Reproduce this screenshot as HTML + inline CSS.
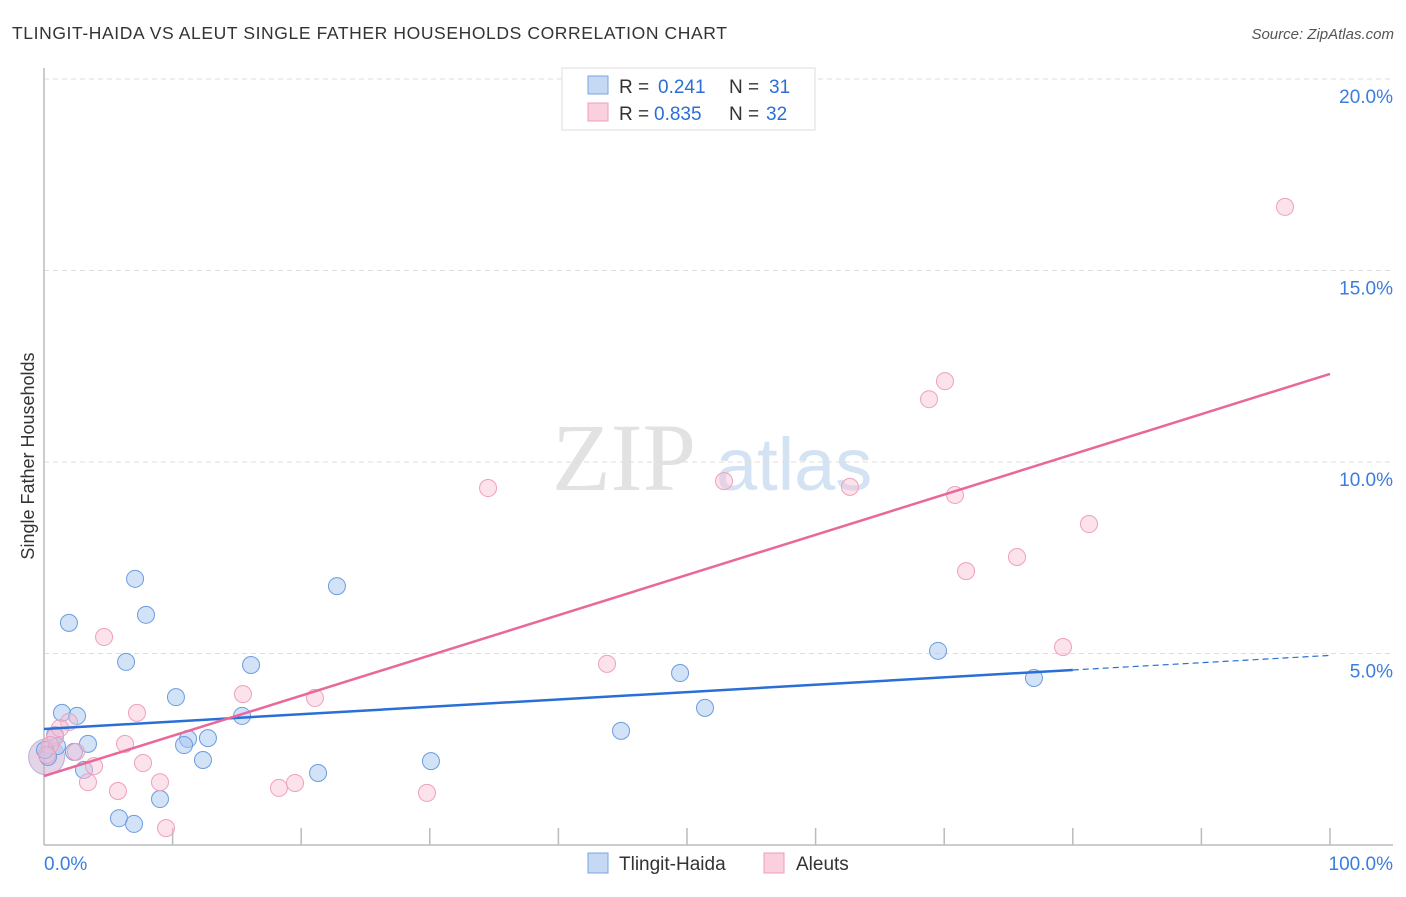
<!DOCTYPE html>
<html><head><meta charset="utf-8"><style>
body{margin:0;background:#fff;font-family:"Liberation Sans",sans-serif;}
</style></head><body>
<svg width="1406" height="892" xmlns="http://www.w3.org/2000/svg">
<text x="12" y="39" font-size="17.5" letter-spacing="0.6" fill="#333">TLINGIT-HAIDA VS ALEUT SINGLE FATHER HOUSEHOLDS CORRELATION CHART</text>
<text x="1394" y="39" font-size="15" fill="#555" font-style="italic" text-anchor="end">Source: ZipAtlas.com</text>
<g>
<text x="552" y="490" font-size="96" fill="#e2e2e2" font-family="Liberation Serif,serif">ZIP</text>
<text x="716" y="490" font-size="74" fill="#d4e3f3">atlas</text>
</g>
<g id="grid"></g>
<g id="axes"></g>
<g id="pts"></g>
<g id="lines"></g>
<text transform="translate(34,456) rotate(-90)" font-size="18" fill="#333" text-anchor="middle">Single Father Households</text>
<g>
<rect x="562" y="68" width="253" height="62" fill="#fff" stroke="#ddd"/>
<rect x="588" y="76" width="20" height="18" fill="#c5d9f5" stroke="#7aa4e0"/>
<rect x="588" y="103" width="20" height="18" fill="#fbd0de" stroke="#ee9cb8"/>
<text x="619" y="93" font-size="19" fill="#333">R =</text>
<text x="658" y="93" font-size="19" fill="#2b6fd6">0.241</text>
<text x="729" y="93" font-size="19" fill="#333">N =</text>
<text x="769" y="93" font-size="19" fill="#2b6fd6">31</text>
<text x="619" y="120" font-size="19" fill="#333">R =</text>
<text x="654" y="120" font-size="19" fill="#2b6fd6">0.835</text>
<text x="729" y="120" font-size="19" fill="#333">N =</text>
<text x="766" y="120" font-size="19" fill="#2b6fd6">32</text>
</g>
<g>
<rect x="588" y="853" width="20" height="20" fill="#c5d9f5" stroke="#7aa4e0"/>
<text x="619" y="870" font-size="19" fill="#333">Tlingit-Haida</text>
<rect x="764" y="853" width="20" height="20" fill="#fbd0de" stroke="#ee9cb8"/>
<text x="796" y="870" font-size="19" fill="#333">Aleuts</text>
</g>
</svg>
<script>
const blueX=[1.4,2.57,1.94,7.08,7.93,6.38,10.26,16.10,15.40,22.78,0.86,1.01,3.42,2.33,3.11,0.31,11.20,10.89,12.75,12.36,5.83,7.00,9.02,21.31,30.09,44.87,49.46,51.40,69.52,76.98,0.08];
const blueY=[3.45,3.37,5.80,6.95,6.01,4.78,3.86,4.70,3.37,6.76,2.87,2.58,2.64,2.43,1.96,2.30,2.77,2.61,2.79,2.22,0.70,0.55,1.20,1.88,2.19,2.98,4.49,3.58,5.07,4.36,2.48];
const pinkX=[96.5,70.06,68.82,34.53,52.88,62.67,70.84,81.26,75.66,71.70,79.24,43.78,21.07,15.47,4.67,7.23,1.94,0.86,6.30,2.49,3.89,3.42,7.70,9.02,5.75,18.27,19.52,29.78,9.49,0.47,1.24,0.23];
const pinkY=[16.66,12.11,11.64,9.32,9.50,9.35,9.14,8.38,7.52,7.15,5.17,4.73,3.84,3.94,5.43,3.45,3.21,2.82,2.64,2.43,2.06,1.64,2.14,1.64,1.41,1.49,1.62,1.36,0.44,2.61,3.05,2.35];
const yTicks=[5,10,15,20];
const xTickLabels=["0.0%","100.0%"];
const blueTrend=[3.03,4.57,4.95]; // at x=0, 80, 100
const pinkTrend=[1.80,12.3]; // at x=0, 100
const sx=v=>44+v*12.86, sy=v=>845-v*38.3;
const NS="http://www.w3.org/2000/svg";
function mk(t,a,p){const e=document.createElementNS(NS,t);for(const k in a)e.setAttribute(k,a[k]);document.getElementById(p).appendChild(e);return e;}
yTicks.forEach(v=>{
 const l=mk('line',{x1:44,x2:1393,y1:sy(v),y2:sy(v),stroke:'#ddd','stroke-dasharray':'5,4'},'grid');
 
 
 const t=mk('text',{x:1393,y:sy(v)+24,'font-size':19,fill:'#3b7ddd','text-anchor':'end'},'grid');
 t.textContent=v.toFixed(1)+'%';
 
 
});
mk('line',{x1:44,x2:44,y1:68,y2:845,stroke:'#bbb','stroke-width':1.5},'axes');
mk('line',{x1:44,x2:1393,y1:845,y2:845,stroke:'#bbb','stroke-width':1.5},'axes');
for(let i=1;i<=10;i++){const t=mk('line',{x1:sx(i*10),x2:sx(i*10),y1:828,y2:845,stroke:'#bbb','stroke-width':1.5},'axes');
 
 }
const xl0=mk('text',{x:44,y:870,'font-size':19,fill:'#3b7ddd'},'axes');xl0.textContent=xTickLabels[0];


const xl1=mk('text',{x:1393,y:870,'font-size':19,fill:'#3b7ddd','text-anchor':'end'},'axes');xl1.textContent=xTickLabels[1];


mk('circle',{cx:sx(0.2),cy:sy(2.3),r:18,fill:'rgba(200,170,210,0.5)',stroke:'rgba(150,140,200,0.6)'},'pts');
blueX.forEach((x,i)=>{const c=mk('circle',{cx:sx(x),cy:sy(blueY[i]),r:8.5,fill:'rgba(165,198,240,0.5)',stroke:'#6c9ce0','stroke-width':1},'pts');
 
 });
pinkX.forEach((x,i)=>{const c=mk('circle',{cx:sx(x),cy:sy(pinkY[i]),r:8.5,fill:'rgba(248,190,210,0.45)',stroke:'#eea0bb','stroke-width':1},'pts');
 
 });
const b1=mk('line',{x1:sx(0),y1:sy(blueTrend[0]),x2:sx(80),y2:sy(blueTrend[1]),stroke:'#2a6fd6','stroke-width':2.5},'lines');


const b2=mk('line',{x1:sx(80),y1:sy(blueTrend[1]),x2:sx(100),y2:sy(blueTrend[2]),stroke:'#2a6fd6','stroke-width':1.2,'stroke-dasharray':'6,4'},'lines');


const p1=mk('line',{x1:sx(0),y1:sy(pinkTrend[0]),x2:sx(100),y2:sy(pinkTrend[1]),stroke:'#e8689a','stroke-width':2.5},'lines');


</script>
</body></html>
